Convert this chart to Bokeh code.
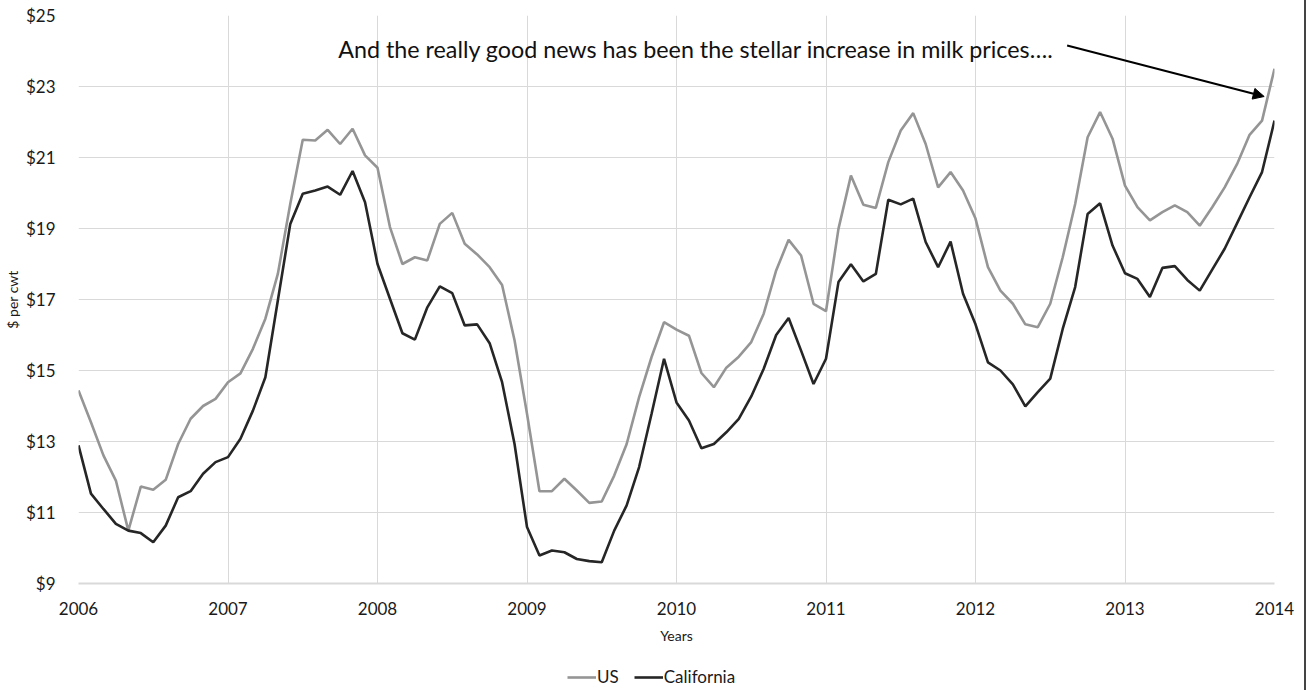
from bokeh.plotting import figure
from bokeh.layouts import column, row
from bokeh.models import (FixedTicker, PrintfTickFormatter, Legend, LegendItem,
                          Label, Arrow, NormalHead, ColumnDataSource, Range1d, Div)
from bokeh.embed import file_html
from bokeh.resources import INLINE

# Monthly prices, Jan 2006 .. Jan 2014 ($ per cwt)
us_price = [14.44, 13.54, 12.61, 11.90, 10.49, 11.73, 11.64, 11.92, 12.93, 13.64, 14.00, 14.20,
            14.67, 14.92, 15.61, 16.46, 17.72, 19.70, 21.50, 21.48, 21.78, 21.38, 21.81, 21.06,
            20.71, 19.04, 18.00, 18.19, 18.10, 19.13, 19.44, 18.57, 18.27, 17.91, 17.41, 15.85,
            13.78, 11.60, 11.60, 11.95, 11.62, 11.27, 11.31, 12.04, 12.93, 14.25, 15.38, 16.36,
            16.15, 15.98, 14.93, 14.53, 15.08, 15.39, 15.80, 16.60, 17.82, 18.68, 18.24, 16.88,
            16.67, 18.99, 20.49, 19.67, 19.58, 20.87, 21.76, 22.25, 21.38, 20.16, 20.59, 20.07,
            19.28, 17.91, 17.25, 16.88, 16.30, 16.22, 16.88, 18.19, 19.69, 21.57, 22.28, 21.53,
            20.21, 19.60, 19.23, 19.46, 19.65, 19.46, 19.08, 19.60, 20.16, 20.82, 21.64, 22.04,
            23.50]
ca_price = [12.89, 11.53, 11.10, 10.68, 10.49, 10.42, 10.16, 10.63, 11.43, 11.60, 12.09, 12.42,
            12.56, 13.08, 13.87, 14.81, 16.97, 19.13, 19.98, 20.07, 20.18, 19.95, 20.62, 19.74,
            18.00, 17.02, 16.05, 15.87, 16.78, 17.37, 17.18, 16.27, 16.30, 15.77, 14.67, 12.93,
            10.59, 9.79, 9.93, 9.88, 9.69, 9.63, 9.60, 10.49, 11.20, 12.28, 13.78, 15.33,
            14.10, 13.59, 12.81, 12.93, 13.26, 13.64, 14.27, 15.05, 16.00, 16.48, 15.56, 14.62,
            15.33, 17.49, 17.99, 17.51, 17.72, 19.81, 19.68, 19.84, 18.62, 17.91, 18.63, 17.16,
            16.30, 15.23, 15.00, 14.61, 13.99, 14.39, 14.77, 16.17, 17.35, 19.41, 19.71, 18.52,
            17.74, 17.58, 17.07, 17.89, 17.94, 17.55, 17.25, 17.84, 18.43, 19.15, 19.88, 20.59,
            22.04]
start_year = 2006
year_ticks = [2006, 2007, 2008, 2009, 2010, 2011, 2012, 2013, 2014]
price_ticks = [9, 11, 13, 15, 17, 19, 21, 23, 25]
series_names = ["US", "California"]
series_colors = ["#959595", "#262626"]
annotation_text = "And the really good news has been the stellar increase in milk prices\u2026."

x_vals = [start_year + i / 12 for i in range(len(us_price))]
src = ColumnDataSource(dict(x=x_vals, us=us_price, ca=ca_price))

FONT = "Lato"
p = figure(width=1304, height=647, x_range=(2006, 2014), y_range=(9, 25),
           output_backend="svg", toolbar_location=None,
           min_border_left=71, min_border_right=30, min_border_top=15, min_border_bottom=64)
p.outline_line_color = None
p.background_fill_color = "white"
p.border_fill_color = "white"

# axes
for ax in (p.xaxis[0], p.yaxis[0]):
    ax.major_tick_line_color = None
    ax.minor_tick_line_color = None
    ax.major_label_text_font = FONT
    ax.major_label_text_font_size = "17px"
    ax.major_label_text_color = "#1a1a1a"
    ax.axis_label_text_font = FONT
    ax.axis_label_text_font_style = "normal"
    ax.axis_label_text_color = "#1a1a1a"
    ax.axis_label_text_font_size = "14px"

p.xaxis.ticker = FixedTicker(ticks=year_ticks)
p.xaxis.axis_line_color = "#d9d9d9"
p.xaxis.axis_line_width = 2
p.xaxis.major_label_standoff = 12
p.xaxis.axis_label = "Years"
p.xaxis.axis_label_standoff = 9

p.yaxis.ticker = FixedTicker(ticks=price_ticks)
p.yaxis.formatter = PrintfTickFormatter(format="$%d")
p.yaxis.axis_line_color = None
p.yaxis.major_label_standoff = 17
p.yaxis.axis_label = "$ per cwt"
p.yaxis.axis_label_standoff = 2

p.xgrid.ticker = FixedTicker(ticks=year_ticks)
p.ygrid.ticker = FixedTicker(ticks=price_ticks)
p.grid.grid_line_color = "#d9d9d9"
p.grid.grid_line_width = 1

p.line("x", "us", source=src, line_color=series_colors[0], line_width=2.6)
p.line("x", "ca", source=src, line_color=series_colors[1], line_width=2.6)

# annotation
p.add_layout(Label(x=2007.737, y=24.07, text=annotation_text, text_font=FONT,
                   text_font_size="23.3px", text_baseline="middle", text_color="#111111"))
p.add_layout(Arrow(x_start=2012.613, y_start=24.155, x_end=2013.931, y_end=22.718,
                   line_color="black", line_width=2,
                   end=NormalHead(size=11, fill_color="black", line_color="black")))

# legend strip below the chart (series drawn out of view; only legend glyphs show)
lg = figure(width=1304, height=43, x_range=p.x_range, y_range=Range1d(0, 1),
            output_backend="svg", toolbar_location=None, min_border=0)
lg.axis.visible = False
lg.grid.visible = False
lg.outline_line_color = None
lg_items = []
for name, col, key in zip(series_names, series_colors, ["us", "ca"]):
    r = lg.line("x", key, source=src, line_color=col, line_width=2.6)
    lg_items.append(LegendItem(label=name, renderers=[r]))
legend = Legend(items=lg_items, orientation="horizontal", location=(489, 3),
                label_text_font=FONT, label_text_font_size="17px", label_text_color="#1a1a1a",
                glyph_width=29, glyph_height=20, label_height=20, label_standoff=1, spacing=15,
                padding=0, margin=0, border_line_alpha=0, background_fill_alpha=0)
lg.add_layout(legend, "center")

edge = Div(width=2, height=690, margin=0, styles={"background-color": "#444444"})
page = row(column(p, lg, spacing=0), edge, spacing=0)

open("out.html", "w").write(file_html(page, INLINE))
